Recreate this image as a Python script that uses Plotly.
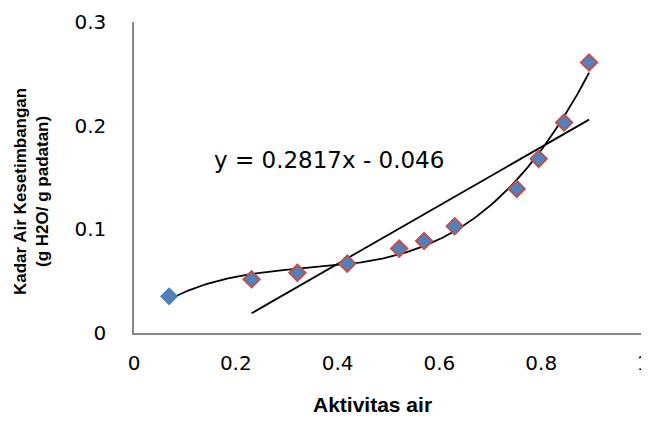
import numpy as np
import plotly.graph_objects as go

# Data
aw = [0.069, 0.231, 0.321, 0.419, 0.521, 0.570, 0.630, 0.752, 0.795, 0.845, 0.894]
emc = [0.0354, 0.0518, 0.0582, 0.0669, 0.0814, 0.0888, 0.1030, 0.1390, 0.1680, 0.2030, 0.2610]

x_ticks = [0, 0.2, 0.4, 0.6, 0.8, 1]
x_tick_labels = ["0", "0.2", "0.4", "0.6", "0.8", "1"]
y_ticks = [0, 0.1, 0.2, 0.3]
y_tick_labels = ["0", "0.1", "0.2", "0.3"]

lin_slope = 0.2817
lin_intercept = -0.046
equation_text = "y = 0.2817x - 0.046"
x_title = "Aktivitas air"
y_title = "Kadar Air Kesetimbangan<br>(g H2O/ g padatan)"

BLUE = "#4F81BD"
RED = "#C0504D"
AXIS = "#868686"

# The page body has an 8px default margin; size the figure to compensate
OFF = 8
W, H = 649 - OFF, 423 - 2 * OFF
L, R, T = 134 - OFF, 6, 22 - OFF
B = H - (333 - OFF)
pw, ph = W - L - R, H - T - B


def px_to_paper(px, py):
    # px, py given in window pixels
    return (px - OFF - L) / pw, (H - B - (py - OFF)) / ph


fig = go.Figure()

# Polynomial trendline (order 3) over all points
coef = np.polyfit(aw, emc, 3)
xs = np.linspace(min(aw), max(aw), 200)
fig.add_trace(go.Scatter(x=xs, y=np.polyval(coef, xs), mode="lines",
                         line=dict(color="black", width=1.8), hoverinfo="skip"))

# Linear trendline over points 2..11
xl = np.array([aw[1], aw[-1]])
fig.add_trace(go.Scatter(x=xl, y=lin_slope * xl + lin_intercept, mode="lines",
                         line=dict(color="black", width=1.8), hoverinfo="skip"))

# First point (no border)
fig.add_trace(go.Scatter(x=aw[:1], y=emc[:1], mode="markers",
                         marker=dict(symbol="diamond", size=14, color=BLUE,
                                     line=dict(width=0))))
# Other points (red border)
fig.add_trace(go.Scatter(x=aw[1:], y=emc[1:], mode="markers",
                         marker=dict(symbol="diamond", size=12.5, color=BLUE,
                                     line=dict(color=RED, width=2))))

tick_font = dict(family="DejaVu Sans", size=20, color="black")
fig.update_xaxes(range=[0, 1], tickvals=x_ticks, ticktext=x_tick_labels,
                 showgrid=False, zeroline=False, showline=True, linecolor=AXIS,
                 linewidth=1.5, ticks="", tickfont=tick_font, ticklabelstandoff=11,
                 automargin=False, ticklabeloverflow="allow")
fig.update_yaxes(range=[0, 0.3], tickvals=y_ticks, ticktext=y_tick_labels,
                 showgrid=False, zeroline=False, showline=True, linecolor=AXIS,
                 linewidth=1.5, ticks="", tickfont=tick_font, ticklabelstandoff=22,
                 automargin=False, ticklabeloverflow="allow")

ex, ey = px_to_paper(212, 160)
ax, ay = px_to_paper(372, 404)
bx, by = px_to_paper(31, 192)

fig.update_layout(
    width=W, height=H,
    margin=dict(l=L, r=R, t=T, b=B, autoexpand=False),
    paper_bgcolor="white", plot_bgcolor="white",
    showlegend=False,
    annotations=[
        dict(text=equation_text, x=ex, y=ey, xref="paper", yref="paper",
             xanchor="left", yanchor="middle", showarrow=False,
             font=dict(family="DejaVu Sans", size=23, color="black")),
        dict(text="<b>" + x_title + "</b>", x=ax, y=ay, xref="paper", yref="paper",
             xanchor="center", yanchor="middle", showarrow=False,
             font=dict(family="Liberation Sans", size=21, color="black")),
        dict(text="<b>" + y_title + "</b>", x=bx, y=by, xref="paper", yref="paper",
             xanchor="center", yanchor="middle", showarrow=False, textangle=-90,
             font=dict(family="Liberation Sans", size=17, color="black")),
    ],
)

fig.write_html("out.html")
